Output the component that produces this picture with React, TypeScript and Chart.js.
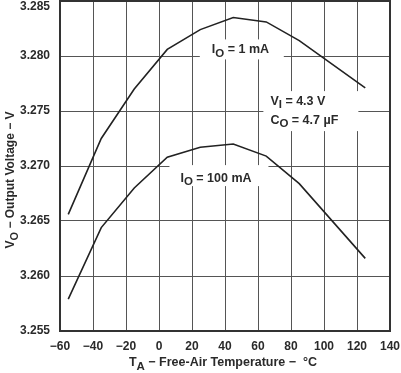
import React, { useEffect, useRef } from "react";
import { Chart, registerables } from "chart.js";

Chart.register(...registerables);

const temps = [-55, -35, -15, 5, 25, 45, 65, 85, 125];
const vo1mA = [3.2656, 3.2725, 3.277, 3.2806, 3.2824, 3.2835, 3.2831, 3.2814, 3.2771];
const vo100mA = [3.2579, 3.2644, 3.268, 3.2708, 3.2717, 3.272, 3.2709, 3.2684, 3.2616];
const xTicks = [-60, -40, -20, 0, 20, 40, 60, 80, 100, 120, 140];
const yTicks = [3.255, 3.26, 3.265, 3.27, 3.275, 3.28, 3.285];

const FONT = "'Liberation Sans', Arial, sans-serif";
const TEXT = "#2a2a2a";
const LINE = "#222222";
const Y_MAX = yTicks[yTicks.length - 1];

type Part = { t: string; sub?: boolean };

function drawParts(ctx: CanvasRenderingContext2D, parts: Part[], x: number, y: number, size: number) {
  let cx = x;
  for (const p of parts) {
    const s = p.sub ? size - 1 : size;
    ctx.font = `bold ${s}px ${FONT}`;
    ctx.fillText(p.t, cx, p.sub ? y + 4 : y);
    cx += ctx.measureText(p.t).width;
  }
  return cx - x;
}

function partsWidth(ctx: CanvasRenderingContext2D, parts: Part[], size: number) {
  let w = 0;
  for (const p of parts) {
    const s = p.sub ? size - 1 : size;
    ctx.font = `bold ${s}px ${FONT}`;
    w += ctx.measureText(p.t).width;
  }
  return w;
}

const annotations: { x: number; y: number; box: [number, number, number, number]; lines: Part[][] }[] = [
  { x: 32, y: 3.2806, box: [12, 10, 72, 10], lines: [[{ t: "I" }, { t: "O", sub: true }, { t: " = 1 mA" }]] },
  {
    x: 67.5,
    y: 3.2759,
    box: [7, 10, 88, 30],
    lines: [
      [{ t: "V" }, { t: "I", sub: true }, { t: " = 4.3 V" }],
      [{ t: "C" }, { t: "O", sub: true }, { t: " = 4.7 µF" }],
    ],
  },
  { x: 13, y: 3.2689, box: [11, 13, 88, 8], lines: [[{ t: "I" }, { t: "O", sub: true }, { t: " = 100 mA" }]] },
];

const decorPlugin = {
  id: "decor",
  beforeDatasetsDraw(chart: any) {
    const { ctx, scales } = chart;
    ctx.save();
    for (const a of annotations) {
      const px = scales.x.getPixelForValue(a.x);
      const py = scales.y.getPixelForValue(a.y);
      ctx.fillStyle = "#ffffff";
      ctx.fillRect(px - a.box[0], py - a.box[1], a.box[0] + a.box[2], a.box[1] + a.box[3]);
      ctx.fillStyle = TEXT;
      ctx.textBaseline = "middle";
      ctx.textAlign = "left";
      a.lines.forEach((ln, i) => drawParts(ctx, ln, px, py + i * 19, 12.5));
    }
    ctx.restore();
  },
  afterDraw(chart: any) {
    const { ctx, chartArea, scales } = chart;
    ctx.save();
    ctx.strokeStyle = "#333";
    ctx.lineWidth = 2;
    ctx.strokeRect(chartArea.left, chartArea.top, chartArea.right - chartArea.left, chartArea.bottom - chartArea.top);
    ctx.fillStyle = TEXT;
    ctx.font = `bold 12px ${FONT}`;
    ctx.textAlign = "right";
    ctx.textBaseline = "middle";
    ctx.fillText(Y_MAX.toFixed(3), chartArea.left - 10, scales.y.getPixelForValue(Y_MAX) + 6);
    ctx.textAlign = "left";
    const xt: Part[] = [{ t: "T" }, { t: "A", sub: true }, { t: " − Free-Air Temperature −  °C" }];
    const xw = partsWidth(ctx, xt, 12.5);
    const xc = (chartArea.left + chartArea.right) / 2 - 2;
    drawParts(ctx, xt, xc - xw / 2, 363, 12.5);
    const yt: Part[] = [{ t: "V" }, { t: "O", sub: true }, { t: " − Output Voltage − V" }];
    const yw = partsWidth(ctx, yt, 12);
    ctx.translate(11, 180);
    ctx.rotate(-Math.PI / 2);
    drawParts(ctx, yt, -yw / 2, 0, 12);
    ctx.restore();
  },
};

export default function App() {
  const ref = useRef<HTMLCanvasElement>(null);
  useEffect(() => {
    if (!ref.current) return;
    const chart = new Chart(ref.current, {
      type: "line",
      data: {
        datasets: [
          {
            label: "IO = 1 mA",
            data: temps.map((t, i) => ({ x: t, y: vo1mA[i] })),
            borderColor: LINE,
            borderWidth: 1.6,
            pointRadius: 0,
            tension: 0,
            fill: false,
          },
          {
            label: "IO = 100 mA",
            data: temps.map((t, i) => ({ x: t, y: vo100mA[i] })),
            borderColor: LINE,
            borderWidth: 1.6,
            pointRadius: 0,
            tension: 0,
            fill: false,
          },
        ],
      },
      options: {
        animation: false,
        responsive: false,
        maintainAspectRatio: false,
        layout: { padding: { left: 0, top: 1, right: 11, bottom: 0 } },
        plugins: { legend: { display: false }, tooltip: { enabled: false } },
        scales: {
          x: {
            type: "linear",
            min: -60,
            max: 140,
            afterBuildTicks: (s: any) => {
              s.ticks = xTicks.map((v) => ({ value: v }));
            },
            afterFit: (s: any) => {
              s.height = 42;
              s.paddingLeft = 0;
              s.paddingRight = 0;
            },
            grid: { color: "#555", lineWidth: 1, drawTicks: false },
            border: { display: false },
            ticks: {
              padding: 8,
              color: TEXT,
              font: { family: FONT, weight: "bold", size: 12 },
              callback: (v: any) => (Number(v) < 0 ? "−" + Math.abs(Number(v)) : String(v)),
            },
          },
          y: {
            type: "linear",
            min: 3.255,
            max: Y_MAX,
            afterBuildTicks: (s: any) => {
              s.ticks = yTicks.map((v) => ({ value: v }));
            },
            afterFit: (s: any) => {
              s.width = 60;
              s.paddingTop = 0;
              s.paddingBottom = 0;
            },
            grid: { color: "#555", lineWidth: 1, drawTicks: false },
            border: { display: false },
            ticks: {
              padding: 10,
              color: TEXT,
              font: { family: FONT, weight: "bold", size: 12 },
              callback: (v: any) => (Number(v) >= Y_MAX ? "" : Number(v).toFixed(3)),
            },
          },
        },
      },
      plugins: [decorPlugin],
    });
    return () => chart.destroy();
  }, []);
  return (
    <div style={{ position: "fixed", left: 0, top: 0, width: 401, height: 373, background: "#fff" }}>
      <canvas ref={ref} width={401} height={373} style={{ width: 401, height: 373 }} />
    </div>
  );
}
